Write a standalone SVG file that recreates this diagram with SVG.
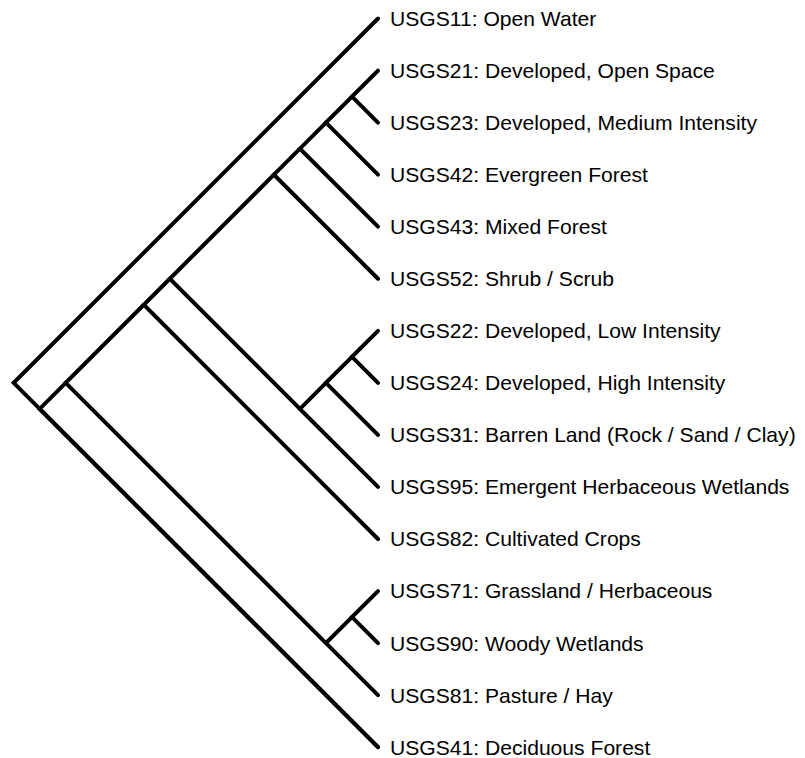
<svg xmlns="http://www.w3.org/2000/svg" width="805" height="758" viewBox="0 0 805 758">
<style>
.e{fill:none;stroke:#000;stroke-width:4;stroke-linecap:round;stroke-linejoin:miter}
.t{font-family:"Liberation Sans",Arial,sans-serif;font-size:21.1px;fill:#000}
</style>
<rect width="805" height="758" fill="#fff"/>
<g id="connectors">
<polyline class="e" points="378,18.5 13.65,382.85 378,747.2"/>
<polyline class="e" points="65.7,382.85 39.68,408.88 378,747.2"/>
<polyline class="e" points="143.78,304.78 65.7,382.85 325.95,643.1"/>
<polyline class="e" points="169.8,278.75 143.78,304.78 378,539"/>
<polyline class="e" points="273.9,174.65 169.8,278.75 299.93,408.88"/>
<polyline class="e" points="299.93,148.63 273.9,174.65 378,278.75"/>
<polyline class="e" points="325.95,122.6 299.93,148.63 378,226.7"/>
<polyline class="e" points="351.98,96.58 325.95,122.6 378,174.65"/>
<polyline class="e" points="378,70.55 351.98,96.58 378,122.6"/>
<polyline class="e" points="325.95,382.85 299.93,408.88 378,486.95"/>
<polyline class="e" points="351.98,356.83 325.95,382.85 378,434.9"/>
<polyline class="e" points="378,330.8 351.98,356.83 378,382.85"/>
<polyline class="e" points="351.98,617.08 325.95,643.1 378,695.15"/>
<polyline class="e" points="378,591.05 351.98,617.08 378,643.1"/>
</g>
<g id="leaf-USGS11"><text class="t" x="390" y="25.9">USGS11: Open Water</text></g>
<g id="leaf-USGS21"><text class="t" x="390" y="77.95">USGS21: Developed, Open Space</text></g>
<g id="leaf-USGS23"><text class="t" x="390" y="130">USGS23: Developed, Medium Intensity</text></g>
<g id="leaf-USGS42"><text class="t" x="390" y="182.05">USGS42: Evergreen Forest</text></g>
<g id="leaf-USGS43"><text class="t" x="390" y="234.1">USGS43: Mixed Forest</text></g>
<g id="leaf-USGS52"><text class="t" x="390" y="286.15">USGS52: Shrub / Scrub</text></g>
<g id="leaf-USGS22"><text class="t" x="390" y="338.2">USGS22: Developed, Low Intensity</text></g>
<g id="leaf-USGS24"><text class="t" x="390" y="390.25">USGS24: Developed, High Intensity</text></g>
<g id="leaf-USGS31"><text class="t" x="390" y="442.3">USGS31: Barren Land (Rock / Sand / Clay)</text></g>
<g id="leaf-USGS95"><text class="t" x="390" y="494.35">USGS95: Emergent Herbaceous Wetlands</text></g>
<g id="leaf-USGS82"><text class="t" x="390" y="546.4">USGS82: Cultivated Crops</text></g>
<g id="leaf-USGS71"><text class="t" x="390" y="598.45">USGS71: Grassland / Herbaceous</text></g>
<g id="leaf-USGS90"><text class="t" x="390" y="650.5">USGS90: Woody Wetlands</text></g>
<g id="leaf-USGS81"><text class="t" x="390" y="702.55">USGS81: Pasture / Hay</text></g>
<g id="leaf-USGS41"><text class="t" x="390" y="754.6">USGS41: Deciduous Forest</text></g>
</svg>
